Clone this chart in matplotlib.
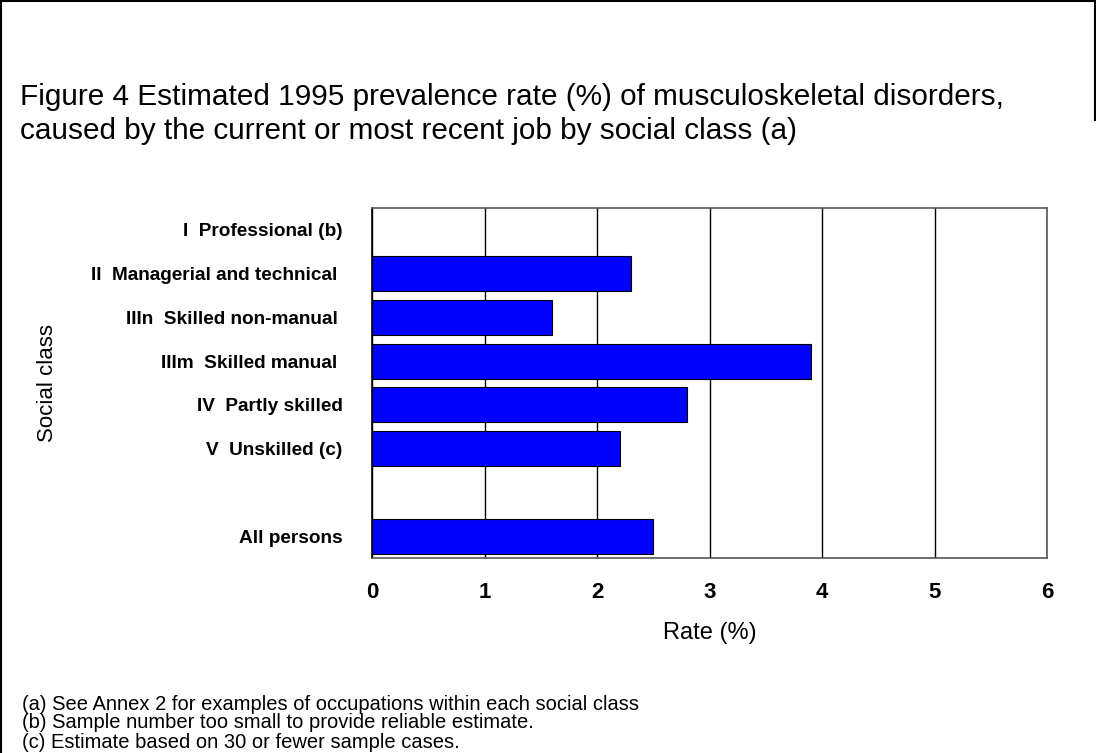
import numpy as np
import matplotlib
matplotlib.use('Agg')
import matplotlib.pyplot as plt
from matplotlib.lines import Line2D

plt.rcParams['font.family'] = ['Liberation Sans', 'DejaVu Sans']

# data
categories = ['I  Professional (b)', 'II  Managerial and technical ', 'IIIn  Skilled non-manual ',
              'IIIm  Skilled manual ', 'IV  Partly skilled', 'V  Unskilled (c)', '', 'All persons']
rates = [np.nan, 2.3, 1.6, 3.9, 2.8, 2.2, np.nan, 2.5]
xticks = [0, 1, 2, 3, 4, 5, 6]

title_lines = ['Figure 4 Estimated 1995 prevalence rate (%) of musculoskeletal disorders,',
               'caused by the current or most recent job by social class (a)']
notes = ['(a) See Annex 2 for examples of occupations within each social class',
         '(b) Sample number too small to provide reliable estimate.',
         '(c) Estimate based on 30 or fewer sample cases.']

fig = plt.figure(figsize=(10.96, 7.53), dpi=100)
ax = fig.add_axes([372/1096, 1 - 558/753, 675/1096, 350/753])

pos = np.arange(len(categories))
ax.barh(pos, rates, height=0.8, color='#0000ff', edgecolor='black', linewidth=0.8, zorder=3)

ax.set_xlim(0, 6)
ax.set_ylim(len(categories) - 0.5, -0.5)
ax.set_xticks(xticks)
ax.set_xticklabels([str(t) for t in xticks], fontsize=16, fontweight='bold')
ax.set_yticks(pos)
ax.set_yticklabels(categories, fontsize=13.7, fontweight='bold')
ax.tick_params(axis='both', length=0)
ax.tick_params(axis='x', pad=17)
ax.tick_params(axis='y', pad=21)
ax.grid(axis='x', color='black', linewidth=1, zorder=0)
for s in ax.spines.values():
    s.set_color('#555555')
    s.set_linewidth(1.2)
ax.spines['left'].set_color('black')

ax.set_xlabel('Rate (%)', fontsize=17)
ax.xaxis.set_label_coords(0.5, -(622 - 558) / 350)
ax.set_ylabel('Social class', fontsize=16)
ax.yaxis.set_label_coords(-(372 - 58) / 675, 0.5)

for i, line in enumerate(title_lines):
    fig.text(20/1096, 1 - (97 + i*34)/753, line, fontsize=21.4, va='center', ha='left')

for i, n in enumerate(notes):
    fig.text(22/1096, 1 - (704 + i*19)/753, n, fontsize=14.5, va='center', ha='left')

# outer frame
fig.add_artist(Line2D([1/1096, 1/1096], [0, 1 - 1/753], color='black', lw=1.5))
fig.add_artist(Line2D([1/1096, 1095/1096], [1 - 1/753, 1 - 1/753], color='black', lw=1.5))
fig.add_artist(Line2D([1095/1096, 1095/1096], [1 - 1/753, 1 - 120/753], color='black', lw=1.5))

fig.savefig('out.png', dpi=100)
